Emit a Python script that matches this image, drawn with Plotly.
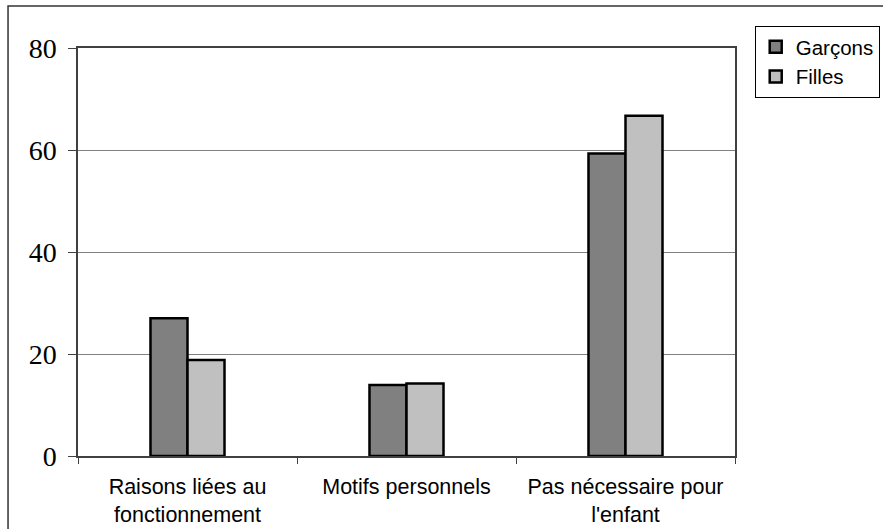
import plotly.graph_objects as go

categories = ["Raisons liées au<br>fonctionnement", "Motifs personnels", "Pas nécessaire pour<br>l'enfant"]
garcons = [27.0, 13.9, 59.3]
filles = [18.8, 14.2, 66.7]
y_ticks = [0, 20, 40, 60, 80]

fig = go.Figure()
fig.add_trace(go.Bar(name="Garçons", x=categories, y=garcons,
                     marker=dict(color="#808080", line=dict(color="black", width=2.5))))
fig.add_trace(go.Bar(name="Filles", x=categories, y=filles,
                     marker=dict(color="#C0C0C0", line=dict(color="black", width=2.5))))

fig.update_layout(
    width=883, height=529,
    margin=dict(l=78, r=148, t=48, b=73, autoexpand=False),
    paper_bgcolor="white", plot_bgcolor="white",
    barmode="group", bargap=0.662, bargroupgap=0,
    font=dict(family="Liberation Sans, Arial, sans-serif", size=21, color="black"),
    legend=dict(x=1.03, y=1.054, xanchor="left", yanchor="top",
                bordercolor="black", borderwidth=1, bgcolor="white",
                font=dict(size=20.5), itemwidth=30, tracegroupgap=0),
    xaxis=dict(showline=True, linecolor="#404040", linewidth=1.5, mirror=True,
               ticks="outside", tickson="boundaries", ticklen=6, tickcolor="#404040",
               showgrid=False, tickfont=dict(size=21.5), ticklabelstandoff=10),
    yaxis=dict(range=[0, 80], tickvals=y_ticks, showline=True, linecolor="#404040",
               linewidth=1.5, mirror=True, ticks="outside", ticklen=8, tickcolor="#404040",
               showgrid=True, gridcolor="#808080", gridwidth=1, zeroline=False,
               tickfont=dict(family="Liberation Serif, Times New Roman, serif", size=28),
               ticklabelstandoff=6),
    shapes=[dict(type="rect", xref="paper", yref="paper",
                 x0=-0.1065, x1=2, y0=-1, y1=1.103,
                 line=dict(color="#333333", width=1.5), layer="below")],
)

fig.write_html("out.html", config={"displayModeBar": False},
               post_script="document.body.style.margin='0';document.body.style.overflow='hidden';")
